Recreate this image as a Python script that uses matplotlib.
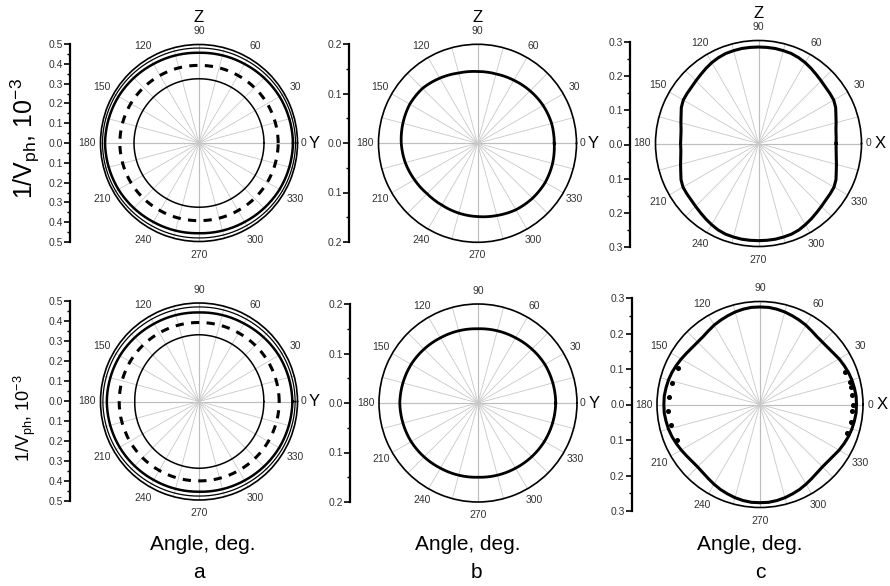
import numpy as np
import matplotlib
matplotlib.use('Agg')
import matplotlib.pyplot as plt
from matplotlib.ticker import MultipleLocator, FuncFormatter

plt.rcParams['font.family'] = ['Liberation Sans', 'DejaVu Sans']
plt.rcParams['mathtext.fontset'] = 'custom'
plt.rcParams['mathtext.rm'] = 'Liberation Sans'
plt.rcParams['mathtext.it'] = 'Liberation Sans:italic'

W, H = 890, 586

# angles, deg
ang30 = [0, 30, 60, 90, 120, 150, 180, 210, 240, 270, 300, 330, 360]
ang15 = list(range(0, 361, 15))
ang5 = list(range(0, 361, 5))
ang_lab = list(range(0, 360, 30))

# panel a: 1/Vph (x1e-3) on the Y-Z plane
a1_thin = [0.490, 0.488, 0.484, 0.482, 0.484, 0.488, 0.490, 0.488, 0.484, 0.482, 0.484, 0.488, 0.490]
a1_thick = [0.477, 0.472, 0.463, 0.458, 0.463, 0.472, 0.477, 0.472, 0.463, 0.458, 0.463, 0.472, 0.477]
a1_dash = [0.402, 0.400, 0.396, 0.394, 0.396, 0.400, 0.402, 0.400, 0.396, 0.394, 0.396, 0.400, 0.402]
a1_inner = [0.330, 0.329, 0.327, 0.326, 0.327, 0.329, 0.330, 0.329, 0.327, 0.326, 0.327, 0.329, 0.330]

a2_thin = [0.488, 0.486, 0.482, 0.480, 0.482, 0.486, 0.488, 0.486, 0.482, 0.480, 0.482, 0.486, 0.488]
a2_thick = [0.474, 0.468, 0.457, 0.452, 0.456, 0.464, 0.468, 0.465, 0.460, 0.458, 0.463, 0.470, 0.474]
a2_dash = [0.407, 0.405, 0.402, 0.401, 0.402, 0.404, 0.405, 0.405, 0.404, 0.403, 0.404, 0.406, 0.407]
a2_inner = [0.329, 0.331, 0.336, 0.339, 0.336, 0.330, 0.326, 0.330, 0.336, 0.339, 0.336, 0.331, 0.329]

# panel b
b1 = [0.155, 0.155, 0.153, 0.150, 0.147, 0.145, 0.145, 0.147, 0.152, 0.157, 0.158, 0.156, 0.154,
      0.151, 0.147, 0.144, 0.144, 0.146, 0.148, 0.151, 0.155, 0.157, 0.158, 0.157, 0.155]
b2 = [0.157, 0.156, 0.152, 0.150, 0.152, 0.156, 0.158, 0.156, 0.152, 0.150, 0.152, 0.155, 0.157]

# panel c (X-Z plane), every 5 deg
c1 = [0.226, 0.227, 0.229, 0.234, 0.240, 0.248, 0.253, 0.254, 0.255, 0.258, 0.262, 0.267, 0.272,
      0.276, 0.279, 0.280, 0.281, 0.281, 0.281,
      0.281, 0.281, 0.280, 0.279, 0.276, 0.272, 0.267, 0.262, 0.258, 0.255, 0.254, 0.253,
      0.248, 0.240, 0.234, 0.229, 0.227, 0.227,
      0.227, 0.230, 0.235, 0.241, 0.249, 0.254, 0.255, 0.256, 0.259, 0.263, 0.268, 0.273,
      0.278, 0.281, 0.282, 0.283, 0.283, 0.283,
      0.283, 0.283, 0.282, 0.281, 0.278, 0.273, 0.268, 0.263, 0.259, 0.256, 0.255, 0.254,
      0.249, 0.241, 0.235, 0.230, 0.227, 0.226]
c2 = [0.281, 0.281, 0.279, 0.277, 0.274, 0.270, 0.266, 0.261, 0.258, 0.257, 0.258, 0.262, 0.267,
      0.271, 0.275, 0.279, 0.282, 0.284, 0.284,
      0.284, 0.282, 0.279, 0.275, 0.271, 0.267, 0.262, 0.258, 0.257, 0.258, 0.261, 0.265,
      0.269, 0.273, 0.276, 0.278, 0.280, 0.280,
      0.280, 0.278, 0.276, 0.273, 0.269, 0.265, 0.261, 0.258, 0.257, 0.259, 0.263, 0.268,
      0.273, 0.277, 0.281, 0.284, 0.286, 0.286,
      0.286, 0.284, 0.281, 0.277, 0.273, 0.268, 0.263, 0.259, 0.257, 0.258, 0.261, 0.266,
      0.270, 0.274, 0.277, 0.279, 0.281, 0.281]
c2_dot_ang = [21, 14, 11, 6, 0, -4, -11, -18, 156, 166, 175, 184, 193, 203]
c2_dot_r = [0.265, 0.269, 0.271, 0.268, 0.272, 0.268, 0.270, 0.267,
            0.262, 0.264, 0.266, 0.269, 0.266, 0.262]

fig = plt.figure(figsize=(W / 100, H / 100), dpi=100)


def curve(ax, ang, r, arcs=True, **kw):
    ln, = ax.plot(np.radians(ang), r, color='k', **kw)
    if arcs:
        # let polar axes draw arcs between the measured points
        ln._path._interpolation_steps = 40
        ln.recache_always()
        ln._path._interpolation_steps = 40
    return ln


def polar_panel(cx, cy, rad, rmax, right_lab, top_lab, zero_x, lab_x):
    ax = fig.add_axes([(cx - rad) / W, 1 - (cy + rad) / H, 2 * rad / W, 2 * rad / H],
                      projection='polar')
    ax.set_ylim(0, rmax)
    ax.set_yticks([])
    ax.set_xticks(np.radians(ang_lab), ['' if a == 0 else str(a) for a in ang_lab])
    ax.set_xticks(np.radians(ang15[:-1]), minor=True)
    ax.grid(True, axis='x', which='both', color='#c8c8c8', lw=0.6)
    for t in (0, 90, 180, 270):
        ax.axvline(np.radians(t), color='#8c8c8c', lw=0.8, zorder=1)
    ax.tick_params(axis='x', which='major', labelsize=7.5, labelcolor='#333333', pad=0,
                   direction='inout', length=5, width=1)
    ax.tick_params(axis='x', which='minor', direction='inout', length=3, width=0.7)
    ax.spines['polar'].set_linewidth(1.2)
    ax.text(1 + zero_x / (2 * rad), 0.5, '0', transform=ax.transAxes, ha='center',
            va='center', fontsize=7.5, color='#333333')
    ax.text(1 + lab_x / (2 * rad), 0.5, right_lab, transform=ax.transAxes, ha='center',
            va='center', fontsize=12)
    if top_lab:
        ax.text(0.5, 1 + 27 / (2 * rad), top_lab, transform=ax.transAxes, ha='center',
                va='center', fontsize=12)
    return ax


def bar_axis(x, y0, y1, rmax):
    bx = fig.add_axes([x / W, 1 - y1 / H, 0.0001, (y1 - y0) / H])
    bx.set_ylim(-rmax, rmax)
    for s in ('top', 'right', 'bottom'):
        bx.spines[s].set_visible(False)
    bx.spines['left'].set_linewidth(1.6)
    bx.set_xticks([])
    bx.yaxis.set_major_locator(MultipleLocator(0.1))
    bx.yaxis.set_minor_locator(MultipleLocator(0.05))
    bx.yaxis.set_major_formatter(FuncFormatter(lambda v, p: f'{abs(v):.1f}'))
    bx.tick_params(axis='y', which='major', length=4, width=1.2, labelsize=7.5,
                   labelcolor='#333333', pad=1)
    bx.tick_params(axis='y', which='minor', length=2.5, width=1)
    bx.patch.set_visible(False)
    return bx


# column a
for cy, y0, y1, thin, thick, dash, inner, top in [
        (143, 44, 242, a1_thin, a1_thick, a1_dash, a1_inner, 'Z'),
        (401.5, 301, 501, a2_thin, a2_thick, a2_dash, a2_inner, None)]:
    ax = polar_panel(199, cy, 98.5, 0.5, 'Y', top, 6, 17)
    curve(ax, ang30, thin, lw=0.9)
    curve(ax, ang30, thick, lw=1.8)
    curve(ax, ang30, dash, lw=2.2, dashes=(2.7, 2.4))
    curve(ax, ang30, inner, lw=1.1)
    bar_axis(70, y0, y1, 0.5)

# column b
ax = polar_panel(477.5, 143.3, 99, 0.2, 'Y', 'Z', 6, 17)
curve(ax, ang15, b1, lw=2.0)
bar_axis(349, 44, 242, 0.2)
ax = polar_panel(478, 403, 99, 0.2, 'Y', None, 6, 17)
curve(ax, ang30, b2, lw=2.0)
bar_axis(350, 304, 502, 0.2)

# column c
ax = polar_panel(758.5, 143.5, 103, 0.3, 'X', 'Z', 7, 19)
curve(ax, ang5, c1, arcs=False, lw=2.2)
bar_axis(630, 42, 247, 0.3)
ax = polar_panel(760, 404.5, 103, 0.3, 'X', None, 7, 19)
curve(ax, ang5, c2, arcs=False, lw=2.2)
ax.plot(np.radians(c2_dot_ang), c2_dot_r, 'o', color='k', ms=2.6, ls='none')
bar_axis(631.5, 298, 511, 0.3)

# axis titles
ylab = '1/V$_{\\mathrm{ph}}$, 10$^{-3}$'
fig.text(25 / W, 1 - 139 / H, ylab, rotation=90, ha='center', va='center', fontsize=18)
fig.text(25 / W, 1 - 418 / H, ylab, rotation=90, ha='center', va='center', fontsize=13)
for x in (203, 468, 750):
    fig.text(x / W, 1 - 545 / H, 'Angle, deg.', ha='center', va='center', fontsize=15)
for x, lab in [(199, 'a'), (476, 'b'), (760, 'c')]:
    fig.text(x / W, 1 - 572 / H, lab, ha='center', va='center', fontsize=15)

fig.savefig('out.png', dpi=100)
